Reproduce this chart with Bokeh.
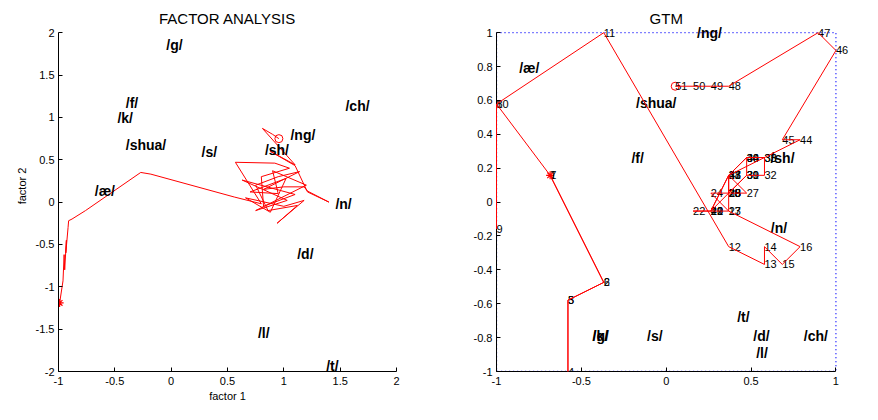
from bokeh.plotting import figure
from bokeh.layouts import row
from bokeh.models import ColumnDataSource, LabelSet, Label, FixedTicker
from bokeh.core.properties import value
from bokeh.embed import file_html
from bokeh.resources import INLINE

# ---------------- data: factor analysis trajectory (51 frames) ----------------
fa_x = [-0.99, -0.96, -0.95, -0.945, -0.93, -0.935, -0.915, -0.91, -0.88, -0.76,
        -0.27, -0.18, 0.56, 0.80, 0.57, 0.92, 1.05, 0.80, 0.82, 1.10,
        0.63, 1.03, 0.75, 1.20, 0.90, 0.95, 0.70, 1.02, 0.88, 0.66,
        1.00, 1.18, 0.94, 1.12, 0.86, 0.75, 0.95, 1.14, 0.82, 1.00,
        1.18, 1.21, 1.40, 1.21, 1.16, 1.10, 0.88, 1.10, 0.81, 0.90, 0.956]
fa_y = [-1.19, -0.93, -0.62, -0.80, -0.45, -0.60, -0.30, -0.22, -0.20, -0.10,
        0.35, 0.33, 0.06, -0.02, 0.47, 0.46, 0.40, 0.30, -0.05, 0.09,
        0.26, 0.02, -0.10, 0.20, 0.37, 0.10, 0.12, 0.28, -0.12, 0.05,
        -0.05, 0.02, -0.25, -0.04, -0.10, 0.20, 0.30, 0.36, 0.15, 0.18,
        0.18, 0.13, 0.00, 0.12, 0.26, 0.43, 0.60, 0.44, 0.87, 0.80, 0.749]

fa_ph = ["/g/", "/f/", "/k/", "/shua/", "/s/", "/sh/", "/ng/", "/ch/", "/æ/", "/n/", "/d/", "/l/", "/t/"]
fa_ph_x = [-0.043, -0.403, -0.477, -0.403, 0.27, 0.832, 1.059, 1.547, -0.678, 1.458, 1.119, 0.77, 1.376]
fa_ph_y = [1.858, 1.169, 0.996, 0.678, 0.59, 0.619, 0.787, 1.13, 0.126, -0.027, -0.609, -1.542, -1.94]

fa_xticks = [-1, -0.5, 0, 0.5, 1, 1.5, 2]
fa_xtick_labels = ["-1", "-0.5", "0", "0.5", "1", "1.5", "2"]
fa_yticks = [-2, -1.5, -1, -0.5, 0, 0.5, 1, 1.5, 2]
fa_ytick_labels = ["-2", "-1.5", "-1", "-0.5", "0", "0.5", "1", "1.5", "2"]

# ---------------- data: GTM latent trajectory (51 frames) ----------------
gtm_x = [-0.684, -0.368, -0.579, -0.579, -0.579, -0.368, -0.684, -1.0, -1.0, -1.0,
         -0.368, 0.368, 0.579, 0.579, 0.684, 0.789, 0.368, 0.368, 0.263, 0.263,
         0.263, 0.158, 0.368, 0.263, 0.368, 0.368, 0.474, 0.368, 0.368, 0.474,
         0.474, 0.579, 0.579, 0.474, 0.579, 0.474, 0.368, 0.368, 0.474, 0.474,
         0.368, 0.263, 0.368, 0.789, 0.684, 1.0, 0.895, 0.368, 0.263, 0.158, 0.053]
gtm_y = [0.158, -0.474, -0.579, -1.0, -0.579, -0.474, 0.158, 0.579, -0.158, 0.579,
         1.0, -0.263, -0.368, -0.263, -0.368, -0.263, -0.053, 0.053, -0.053, -0.053,
         -0.053, -0.053, -0.053, 0.053, 0.053, 0.053, 0.053, 0.158, 0.053, 0.158,
         0.158, 0.158, 0.263, 0.263, 0.263, 0.263, 0.158, 0.053, 0.158, 0.263,
         0.158, -0.053, 0.158, 0.368, 0.368, 0.895, 1.0, 0.684, 0.684, 0.684, 0.684]
gtm_num = [str(i + 1) for i in range(len(gtm_x))]

# GTM latent-space boundary (dotted)
gtm_box_x = [-1, 1, 1, -1, -1]
gtm_box_y = [1, 1, -1, -1, 1]

gtm_ph = ["/ng/", "/æ/", "/shua/", "/f/", "/sh/", "/n/", "/t/", "/k/", "/g/", "/s/", "/d/", "/ch/", "/l/"]
gtm_ph_x = [0.182, -0.866, -0.178, -0.205, 0.614, 0.616, 0.418, -0.434, -0.434, -0.113, 0.513, 0.811, 0.53]
gtm_ph_y = [1.0, 0.79, 0.582, 0.263, 0.262, -0.152, -0.68, -0.788, -0.788, -0.788, -0.79, -0.79, -0.893]

gtm_xticks = [-1, -0.5, 0, 0.5, 1]
gtm_xtick_labels = ["-1", "-0.5", "0", "0.5", "1"]
gtm_yticks = [-1, -0.8, -0.6, -0.4, -0.2, 0, 0.2, 0.4, 0.6, 0.8, 1]
gtm_ytick_labels = ["-1", "-0.8", "-0.6", "-0.4", "-0.2", "0", "0.2", "0.4", "0.6", "0.8", "1"]

FONT = "Liberation Sans"
RED = "#ff0000"


def style(p, xt, xl, yt, yl):
    p.grid.visible = False
    p.outline_line_color = None
    p.background_fill_color = "white"
    p.border_fill_color = "white"
    for ax in (p.xaxis[0], p.yaxis[0]):
        ax.major_tick_in = 4
        ax.major_tick_out = 0
        ax.minor_tick_line_color = None
        ax.axis_line_color = "black"
        ax.major_tick_line_color = "black"
        ax.major_label_text_font = FONT
        ax.major_label_text_font_size = "11px"
        ax.major_label_text_color = "black"
        ax.axis_label_text_font = FONT
        ax.axis_label_text_font_size = "11px"
        ax.axis_label_text_font_style = "normal"
        ax.axis_label_text_color = "black"
    p.xaxis[0].ticker = FixedTicker(ticks=xt)
    p.xaxis[0].major_label_overrides = {t: s for t, s in zip(xt, xl)}
    p.xaxis[0].bounds = (xt[0], xt[-1])
    p.yaxis[0].ticker = FixedTicker(ticks=yt)
    p.yaxis[0].major_label_overrides = {t: s for t, s in zip(yt, yl)}
    p.yaxis[0].bounds = (yt[0], yt[-1])
    p.xaxis[0].major_label_standoff = 5
    p.yaxis[0].major_label_standoff = 4


def add_title(p, x, y, text):
    p.add_layout(Label(x=x, y=y, text=text, text_font=FONT, text_font_size="15px",
                       text_color="black", text_align="center", text_baseline="middle"))


# ---------------- left: factor analysis ----------------
p1 = figure(width=446, height=412, x_range=(-1, 2), y_range=(-2, 2.38),
            output_backend="svg", toolbar_location=None,
            min_border_left=58, min_border_right=50, min_border_top=0, min_border_bottom=41)
style(p1, fa_xticks, fa_xtick_labels, fa_yticks, fa_ytick_labels)
p1.xaxis[0].axis_label = "factor 1"
p1.yaxis[0].axis_label = "factor 2"
p1.xaxis[0].axis_label_standoff = 2
p1.yaxis[0].axis_label_standoff = 5
add_title(p1, 0.5, 2.165, "FACTOR ANALYSIS")

fa_src = ColumnDataSource(dict(x=fa_x, y=fa_y))
p1.line("x", "y", source=fa_src, line_color=RED, line_width=1)
p1.scatter([fa_x[0]], [fa_y[0]], marker="asterisk", size=8, line_color=RED, line_width=1.2)
p1.scatter([fa_x[-1]], [fa_y[-1]], marker="circle", size=8, fill_color=None, line_color=RED, line_width=1)
fa_ph_src = ColumnDataSource(dict(x=fa_ph_x, y=fa_ph_y, t=fa_ph))
p1.add_layout(LabelSet(x="x", y="y", text="t", source=fa_ph_src, text_font=value(FONT),
                       text_font_size=value("14px"), text_font_style="bold", text_color="black",
                       text_align="left", text_baseline="middle"))

# ---------------- right: GTM ----------------
p2 = figure(width=429, height=412, x_range=(-1, 1.08), y_range=(-1, 1.19),
            output_backend="svg", toolbar_location=None,
            min_border_left=50, min_border_right=26, min_border_top=0, min_border_bottom=41)
style(p2, gtm_xticks, gtm_xtick_labels, gtm_yticks, gtm_ytick_labels)
add_title(p2, 0.0, 1.083, "GTM")

p2.line(gtm_box_x, gtm_box_y, line_color="blue", line_width=1.3, line_dash="1 3")

gtm_src = ColumnDataSource(dict(x=gtm_x, y=gtm_y, t=gtm_num))
p2.line("x", "y", source=gtm_src, line_color=RED, line_width=1, level="overlay")
p2.scatter([gtm_x[0]], [gtm_y[0]], marker="asterisk", size=8, line_color=RED, line_width=1.2)
p2.scatter([gtm_x[-1]], [gtm_y[-1]], marker="circle", size=8, fill_color=None, line_color=RED, line_width=1)
p2.add_layout(LabelSet(x="x", y="y", text="t", source=gtm_src, text_font=value(FONT),
                       text_font_size=value("11px"), text_color="black",
                       text_align="left", text_baseline="middle"))
gtm_ph_src = ColumnDataSource(dict(x=gtm_ph_x, y=gtm_ph_y, t=gtm_ph))
p2.add_layout(LabelSet(x="x", y="y", text="t", source=gtm_ph_src, text_font=value(FONT),
                       text_font_size=value("14px"), text_font_style="bold", text_color="black",
                       text_align="left", text_baseline="middle"))

layout = row(p1, p2)
open("out.html", "w").write(file_html(layout, INLINE))
